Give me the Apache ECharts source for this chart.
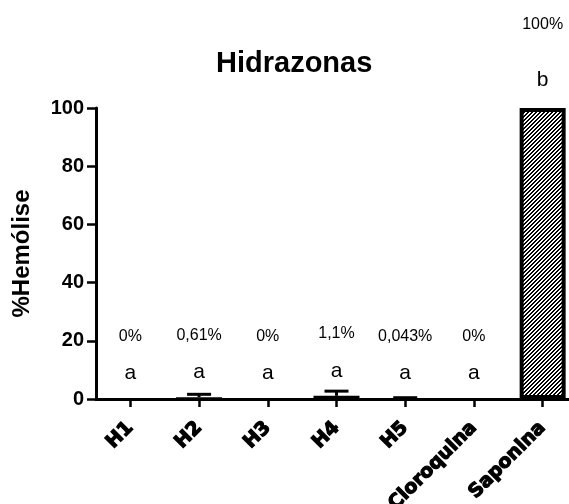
<!DOCTYPE html>
<html>
<head>
<meta charset="utf-8">
<script src="https://cdn.jsdelivr.net/npm/echarts@6/dist/echarts.min.js"></script>
<style>
html,body{margin:0;padding:0;background:#fff;}
#chart{width:569px;height:504px;}
</style>
</head>
<body>
<div id="chart"></div>
<script>
const categories = ['H1', 'H2', 'H3', 'H4', 'H5', 'Cloroquina', 'Saponina'];
const values = [0, 0.61, 0, 1.1, 0.043, 0, 100];
const errors = [0, 1.0, 0, 1.6, 0.4, 0, 0];
const pctLabels = ['0%', '0,61%', '0%', '1,1%', '0,043%', '0%', '100%'];
const letters = ['a', 'a', 'a', 'a', 'a', 'a', 'b'];
const yTicks = [0, 20, 40, 60, 80, 100];

// hatch pattern
const pat = document.createElement('canvas');
pat.width = 4; pat.height = 4;
const pc = pat.getContext('2d');
pc.fillStyle = '#fff'; pc.fillRect(0, 0, 4, 4);
pc.fillStyle = '#000';
for (let x = 0; x < 4; x++) {
  pc.fillRect(x, 3 - x, 1, 1);
  pc.fillRect(x, (4 - x) % 4, 1, 1);
}

const chart = echarts.init(document.getElementById('chart'));
const lastIdx = categories.length - 1;

const barData = values.map((v, i) => {
  const isSap = i === lastIdx;
  return {
    value: v,
    itemStyle: isSap
      ? { color: { image: pat, repeat: 'repeat' }, borderColor: '#000', borderWidth: 4 }
      : { color: '#000', borderColor: '#000', borderWidth: 1.5 },
    label: {
      show: true,
      position: 'top',
      distance: isSap ? 16 : 13,
      formatter: '{p|' + pctLabels[i] + '}\n{l|' + letters[i] + '}',
      rich: {
        p: { fontFamily: 'Liberation Sans', fontSize: 16, color: '#000', lineHeight: isSap ? 86 : 50 },
        l: { fontFamily: 'Liberation Sans', fontSize: 21, color: '#000', lineHeight: 24 }
      }
    }
  };
});

const errData = values.map((v, i) => [i, v, errors[i]]);

chart.setOption({
  animation: false,
  backgroundColor: '#fff',
  title: {
    text: 'Hidrazonas',
    left: 211,
    top: 44,
    textStyle: { fontFamily: 'Liberation Sans', fontWeight: 'bold', fontSize: 29, color: '#000' }
  },
  grid: { left: 96, top: 108, width: 481, height: 291, containLabel: false, outerBoundsMode: 'none' },
  xAxis: {
    type: 'category',
    data: categories,
    axisLine: { show: true, lineStyle: { color: '#000', width: 3 } },
    axisTick: { show: true, alignWithLabel: true, length: 8, lineStyle: { color: '#000', width: 2.5 } },
    axisLabel: {
      rotate: 45, margin: 26, interval: 0,
      fontFamily: 'DejaVu Sans', fontWeight: 'bold', fontSize: 19, color: '#000',
      textBorderColor: '#000', textBorderWidth: 1.2
    },
    splitLine: { show: false }
  },
  yAxis: {
    type: 'value',
    min: yTicks[0], max: yTicks[yTicks.length - 1], interval: yTicks[1] - yTicks[0],
    name: '%Hemólise',
    nameLocation: 'middle',
    nameRotate: 90,
    nameGap: 62,
    nameTextStyle: { fontFamily: 'Liberation Sans', fontWeight: 'bold', fontSize: 24, color: '#000' },
    axisLine: { show: true, lineStyle: { color: '#000', width: 3 } },
    axisTick: { show: true, inside: false, length: 9, lineStyle: { color: '#000', width: 2.5 } },
    axisLabel: { margin: 12, fontFamily: 'Liberation Sans', fontWeight: 'bold', fontSize: 20, color: '#000' },
    splitLine: { show: false }
  },
  series: [
    {
      type: 'bar',
      barWidth: 46,
      data: barData,
      z: 2
    },
    {
      type: 'custom',
      z: 3,
      data: errData,
      renderItem: function (params, api) {
        const idx = api.value(0), mean = api.value(1), err = api.value(2);
        if (!err) return null;
        const base = api.coord([idx, mean]);
        const top = api.coord([idx, mean + err]);
        const hw = 12;
        return {
          type: 'group',
          children: [
            { type: 'line', shape: { x1: base[0], y1: base[1], x2: top[0], y2: top[1] }, style: { stroke: '#000', lineWidth: 3 } },
            { type: 'line', shape: { x1: top[0] - hw, y1: top[1], x2: top[0] + hw, y2: top[1] }, style: { stroke: '#000', lineWidth: 3 } }
          ]
        };
      }
    }
  ]
});
</script>
</body>
</html>
